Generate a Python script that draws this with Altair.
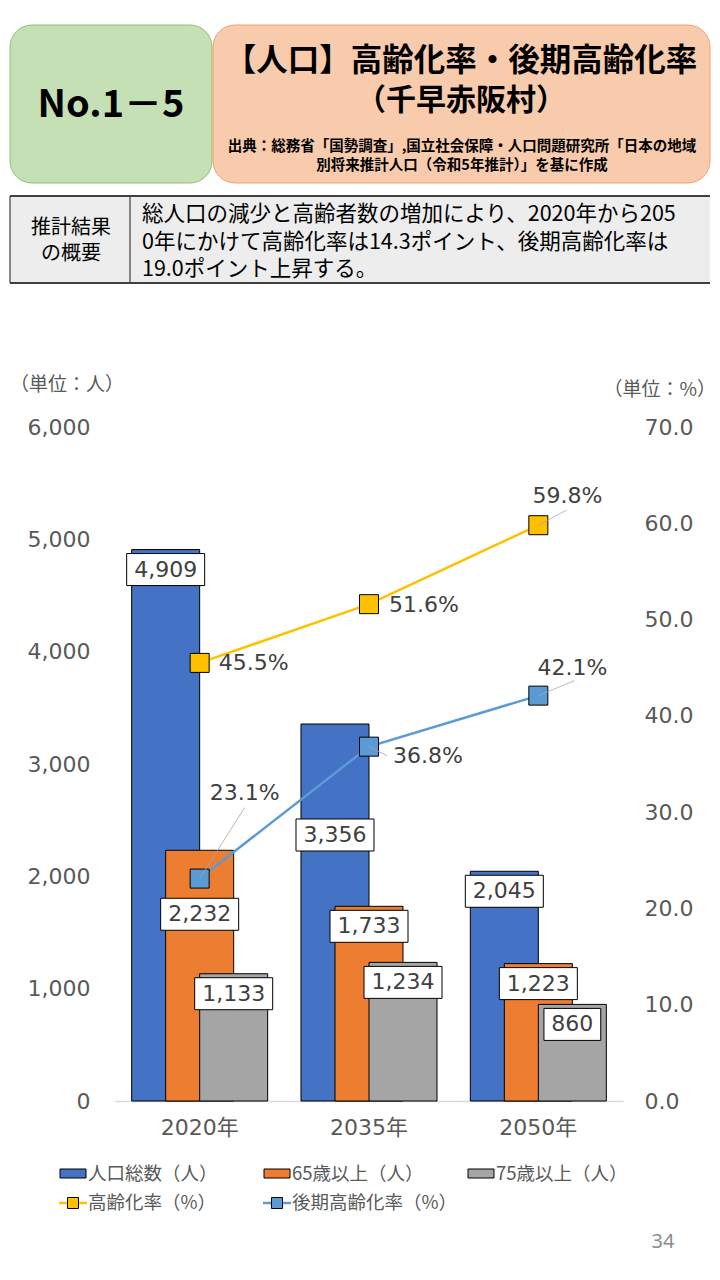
import altair as alt
import pandas as pd

# ---------------- data ----------------
years = ["2020年", "2035年", "2050年"]
bar_series = ["人口総数（人）", "65歳以上（人）", "75歳以上（人）"]
total_pop = [4909, 3356, 2045]
pop_65 = [2232, 1733, 1223]
pop_75 = [1133, 1234, 860]
line_series = ["高齢化率（%）", "後期高齢化率（%）"]
rate_65 = [45.5, 51.6, 59.8]
rate_75 = [23.1, 36.8, 42.1]
left_ticks = [0, 1000, 2000, 3000, 4000, 5000, 6000]
right_ticks = [0, 10, 20, 30, 40, 50, 60, 70]

# ---------------- styles / geometry ----------------
bar_colors = ["#4472C4", "#ED7D31", "#A5A5A5"]
line_colors = ["#FFC000", "#5B9BD5"]
W, H = 508, 674
OX, OY = 115, 427  # page position of plot origin
PX_PER_PERSON = H / 6000
JP = "Noto Sans CJK JP"
NUM = "DejaVu Sans"
TXT = "#404040"
AX = "#595959"

# bar label vertical shift (pixels below bar top, to box centre)
label_shift_px = {("2020年", "65歳以上（人）"): 64, ("2035年", "人口総数（人）"): 111}
# percent label placement: (align, dx, dy)
pct_place = {
    ("高齢化率（%）", "2020年"): ("left", 19, 0),
    ("高齢化率（%）", "2035年"): ("left", 20, 1),
    ("高齢化率（%）", "2050年"): ("center", 29, -29),
    ("後期高齢化率（%）", "2020年"): ("center", 45, -86),
    ("後期高齢化率（%）", "2035年"): ("left", 24, 9),
    ("後期高齢化率（%）", "2050年"): ("center", 34, -28),
}
leader_path = {
    ("高齢化率（%）", "2050年"): "M0,0L28,-15",
    ("後期高齢化率（%）", "2020年"): "M0,0L45,-71",
    ("後期高齢化率（%）", "2035年"): "M0,0L18,9",
    ("後期高齢化率（%）", "2050年"): "M0,0L36,-15",
}

rows = []
for s, vals in zip(bar_series, [total_pop, pop_65, pop_75]):
    for y, v in zip(years, vals):
        lab = f"{v:,}"
        shift = label_shift_px.get((y, s), 20)
        hw = (25 + 10.6 * len(lab)) / 2
        rows.append({
            "year": y, "series": s, "value": v, "label": lab,
            "label_y": v - shift / PX_PER_PERSON,
            "box": f"M{-hw:.1f},-16H{hw:.1f}V16H{-hw:.1f}Z",
        })
bars_df = pd.DataFrame(rows)

lrows = []
for s, vals in zip(line_series, [rate_65, rate_75]):
    for y, v in zip(years, vals):
        lrows.append({"year": y, "lseries": s, "value": v, "label": f"{v:.1f}%",
                      "leader": leader_path.get((s, y), "")})
line_df = pd.DataFrame(lrows)
leader_df = line_df[line_df["leader"] != ""]

xscale = alt.Scale(domain=years, paddingInner=0.3975, paddingOuter=0.19875)
x_axis = alt.Axis(title=None, labelAngle=0, labelFont=f"{NUM}, {JP}", labelFontSize=22,
                  labelColor=AX, labelPadding=16, ticks=False, domainColor="#D9D9D9",
                  domainWidth=1.3, grid=False)
X = alt.X("year:N", scale=xscale, axis=x_axis, title=None)
xoff = alt.XOffset("series:N", scale=alt.Scale(domain=bar_series, paddingInner=0, paddingOuter=0))
yL = alt.Scale(domain=[0, 6000], nice=False, zero=True)
yR = alt.Scale(domain=[0, 70], nice=False, zero=True)

bars = alt.Chart(bars_df).mark_bar(width=68, stroke="black", strokeWidth=1).encode(
    x=X, xOffset=xoff,
    y=alt.Y("value:Q", scale=yL, title=None,
            axis=alt.Axis(orient="left", values=left_ticks, format=",.0f", labelFont=NUM,
                          labelFontSize=22, labelColor=AX, labelPadding=25, ticks=False,
                          domain=False, grid=False, title=None)),
    color=alt.Color("series:N", scale=alt.Scale(domain=bar_series, range=bar_colors), legend=None),
)

line_color = alt.Scale(domain=line_series, range=line_colors)
lines = alt.Chart(line_df).mark_line(strokeWidth=2.5).encode(
    x=X,
    y=alt.Y("value:Q", scale=yR, title=None,
            axis=alt.Axis(orient="right", values=right_ticks, format=".1f", labelFont=NUM,
                          labelFontSize=22, labelColor=AX, labelPadding=21, labelAlign="left",
                          ticks=False, domain=False, grid=False, title=None)),
    stroke=alt.Stroke("lseries:N", scale=line_color, legend=None),
)

points = alt.Chart(line_df).mark_point(shape="square", size=361, filled=True, opacity=1,
                                       stroke="black", strokeWidth=1).encode(
    x=X, y=alt.Y("value:Q", scale=yR, axis=None),
    fill=alt.Fill("lseries:N", scale=line_color, legend=None),
)

leaders = alt.Chart(leader_df).mark_point(size=4, filled=False, opacity=1, stroke="#A6A6A6",
                                          strokeWidth=0.8).encode(
    x=X, y=alt.Y("value:Q", scale=yR, axis=None),
    shape=alt.Shape("leader:N", scale=None, legend=None),
)

pct_layers = []
for (s, y), (al, dx, dy) in pct_place.items():
    sub = line_df[(line_df["lseries"] == s) & (line_df["year"] == y)]
    pct_layers.append(
        alt.Chart(sub).mark_text(align=al, baseline="middle", dx=dx, dy=dy, font=NUM,
                                 fontSize=22, color=TXT).encode(
            x=X, y=alt.Y("value:Q", scale=yR, axis=None), text="label:N")
    )

boxes = alt.Chart(bars_df).mark_point(size=4, filled=True, fill="white", opacity=1,
                                      stroke="black", strokeWidth=1).encode(
    x=X, xOffset=xoff, y=alt.Y("label_y:Q", scale=yL, axis=None),
    shape=alt.Shape("box:N", scale=None, legend=None),
)
box_text = alt.Chart(bars_df).mark_text(baseline="middle", font=NUM, fontSize=22, color=TXT).encode(
    x=X, xOffset=xoff, y=alt.Y("label_y:Q", scale=yL, axis=None), text="label:N",
)

# ---------------- decorations (page pixel positions) ----------------
one = pd.DataFrame({"k": [0]})


def rect(x1, y1, x2, y2, fill, stroke=None, sw=1.0, r=0):
    kw = dict(fill=fill, cornerRadius=r, strokeWidth=sw)
    if stroke:
        kw["stroke"] = stroke
    return alt.Chart(one).mark_rect(**kw).encode(
        x=alt.value(x1 - OX), x2=alt.value(x2 - OX), y=alt.value(y1 - OY), y2=alt.value(y2 - OY))


def rule(x1, y1, x2, y2, color, sw):
    return alt.Chart(one).mark_rule(color=color, strokeWidth=sw).encode(
        x=alt.value(x1 - OX), x2=alt.value(x2 - OX), y=alt.value(y1 - OY), y2=alt.value(y2 - OY))


def text(x, y, s, size, color="black", align="center", weight="normal", font=JP, lh=None):
    kw = dict(align=align, baseline="middle", fontSize=size, color=color,
              fontWeight=weight, font=font)
    if lh:
        kw["lineHeight"] = lh
    return alt.Chart(one).mark_text(**kw).encode(
        x=alt.value(x - OX), y=alt.value(y - OY), text=alt.value(s))


def sym(x, y, shape, size, fill, stroke="black"):
    return alt.Chart(one).mark_point(shape=shape, size=size, filled=True, fill=fill, opacity=1,
                                     stroke=stroke, strokeWidth=1).encode(
        x=alt.value(x - OX), y=alt.value(y - OY))


deco = [
    rect(10, 25, 212, 183, "#C5E0B4", "#8DC26B", 1, 22),
    rect(213, 25, 710, 183, "#F8CBAD", "#F1A16C", 1, 22),
    text(111, 106, "No.1－5", 38, weight="bold"),
    text(461, 62, "【人口】高齢化率・後期高齢化率", 31.5, weight="bold"),
    text(461, 101, "（千早赤阪村）", 30, weight="bold"),
    text(462, 147, "出典：総務省「国勢調査」,国立社会保障・人口問題研究所「日本の地域", 14.5, weight="bold"),
    text(462, 166, "別将来推計人口（令和5年推計）」を基に作成", 14.5, weight="bold"),
    rect(10, 196, 710, 283, "#EDEDED"),
    rule(10, 196, 710, 196, "#3F3F3F", 2),
    rule(10, 283, 710, 283, "#3F3F3F", 2),
    rule(10, 196, 10, 283, "#3F3F3F", 1.2),
    rule(130, 196, 130, 283, "#3F3F3F", 1.2),
    text(71, 228, ["推計結果", "の概要"], 20, lh=25.5),
    text(142, 215, ["総人口の減少と高齢者数の増加により、2020年から205",
                    "0年にかけて高齢化率は14.3ポイント、後期高齢化率は",
                    "19.0ポイント上昇する。"], 21.5, align="left", lh=27.5),
    text(10, 385, "（単位：人）", 19, color=AX, align="left"),
    text(716, 390, "（単位：%）", 19, color=AX, align="right"),
    text(663, 1242, "34", 20, color="#8C8C8C", font="Noto Sans"),
]

# legend
leg_x = [60, 264, 468]
for i, (s, c) in enumerate(zip(bar_series, bar_colors)):
    deco.append(rect(leg_x[i], 1169, leg_x[i] + 26, 1178, c, "black", 1))
    deco.append(text(leg_x[i] + 28, 1174, s, 18.5, color=AX, align="left"))
for i, (s, c) in enumerate(zip(line_series, line_colors)):
    deco.append(rule(leg_x[i] - 1, 1203, leg_x[i] + 27, 1203, c, 2.5))
    deco.append(sym(leg_x[i] + 13, 1203, "square", 121, c))
    deco.append(text(leg_x[i] + 28, 1203, s, 18.5, color=AX, align="left"))

chart = alt.layer(
    bars, lines, points, leaders, *pct_layers, boxes, box_text, *deco
).resolve_scale(y="independent").properties(
    width=W, height=H,
    padding={"left": OX, "top": OY, "right": 720 - OX - W, "bottom": 1280 - OY - H},
    autosize=alt.AutoSizeParams(type="none"),
    background="white",
).configure_view(stroke=None)

chart.save("out.html", embed_options={"renderer": "svg", "actions": False})
